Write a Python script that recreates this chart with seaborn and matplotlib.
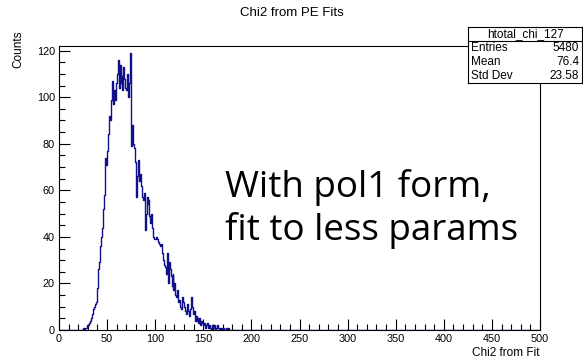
import numpy as np
import pandas as pd
import matplotlib
matplotlib.use("Agg")
import matplotlib.pyplot as plt
from matplotlib.ticker import MultipleLocator
import seaborn as sns

# ---- data (bin width 1, left edges 20..179) ----
first_edge = 20
counts = [
    0, 0, 0, 0, 0,
    1, 0, 1, 1, 2,
    2, 3, 4, 5, 7,
    9, 10, 11, 12, 14,
    18, 26, 29, 36, 40,
    44, 52, 58, 74, 71,
    77, 84, 92, 90, 99,
    107, 97, 103, 99, 106,
    110, 116, 104, 114, 106,
    109, 103, 113, 108, 104,
    103, 110, 100, 106, 119,
    79, 88, 80, 78, 72,
    57, 66, 73, 64, 67,
    62, 57, 56, 59, 43,
    50, 57, 54, 56, 49,
    46, 50, 44, 40, 39,
    39, 40, 39, 38, 37,
    36, 37, 33, 30, 28,
    27, 24, 33, 20, 29,
    26, 23, 19, 24, 17,
    20, 15, 14, 17, 12,
    13, 10, 9, 14, 12,
    10, 8, 7, 11, 8,
    6, 9, 14, 10, 7,
    8, 4, 6, 4, 5,
    3, 5, 2, 4, 3,
    2, 3, 1, 2, 3,
    1, 2, 1, 0, 2,
    1, 2, 0, 1, 2,
    1, 0, 1, 0, 1,
    0, 1, 0, 0, 1,
    0, 1, 0, 0, 0,
]
x_ticks = [0, 50, 100, 150, 200, 250, 300, 350, 400, 450, 500]
y_ticks = [0, 20, 40, 60, 80, 100, 120]
hist_name = "htotal_chi_127"
stats_labels = ["Entries", "Mean", "Std Dev"]
stats_values = ["5480", "76.4", "23.58"]
title = "Chi2 from PE Fits"
xlabel = "Chi2 from Fit"
ylabel = "Counts"
note = "With pol1 form,\nfit to less params"

centers = np.arange(len(counts)) + first_edge + 0.5
df = pd.DataFrame({"chi2": centers, "n": counts})

sns.set_style("ticks")
plt.rcParams["font.family"] = ["Liberation Sans", "DejaVu Sans"]
for k in ["text.color", "axes.labelcolor", "xtick.color", "ytick.color", "axes.edgecolor"]:
    plt.rcParams[k] = "black"

W, H = 583, 358
fig = plt.figure(figsize=(W / 100, H / 100), dpi=100)
L, R, T, B = 59, 540, 46, 330
ax = fig.add_axes([L / W, 1 - B / H, (R - L) / W, (B - T) / H])

sns.histplot(data=df, x="chi2", weights="n", bins=500, binrange=(0, 500),
             element="step", fill=False, color="#10108a", linewidth=1.0, ax=ax)

ax.set_xlim(0, 500)
ax.set_ylim(0, 122)
ax.set_xticks(x_ticks)
ax.set_yticks(y_ticks)
ax.xaxis.set_minor_locator(MultipleLocator(10))
ax.yaxis.set_minor_locator(MultipleLocator(5))
ax.tick_params(which="both", direction="in", labelsize=7.8, width=0.8,
               top=False, right=False, pad=3)
ax.tick_params(which="major", length=8)
ax.tick_params(which="minor", length=4)
for s in ax.spines.values():
    s.set_linewidth(0.8)
    s.set_color("black")
ax.set_xlabel("")
ax.set_ylabel("")

fig.text(R / W, 1 - 353 / H, xlabel, ha="right", va="center", fontsize=8.5)
fig.text(18 / W, 1 - 30 / H, ylabel, ha="center", va="top", rotation=90, fontsize=8.5)
fig.text(291.5 / W, 1 - 13 / H, title, ha="center", va="center", fontsize=9.5)

# stats box as its own small axes
bx0, bx1, by0, by1 = 468, 582, 27, 83
sax = fig.add_axes([bx0 / W, 1 - by1 / H, (bx1 - bx0) / W, (by1 - by0) / H])
sax.set_xlim(bx0, bx1)
sax.set_ylim(by1, by0)
sax.set_xticks([])
sax.set_yticks([])
for s in sax.spines.values():
    s.set_linewidth(0.8)
    s.set_color("black")
row_h = (by1 - by0) / 4
sax.axhline(by0 + row_h, color="black", linewidth=0.8)
sax.text((bx0 + bx1) / 2, by0 + row_h / 2, hist_name, ha="center", va="center", fontsize=8.5)
for i, (lab, val) in enumerate(zip(stats_labels, stats_values)):
    yy = by0 + row_h * (i + 1.5)
    sax.text(bx0 + 3, yy, lab, ha="left", va="center", fontsize=8.5)
    sax.text(bx1 - 3, yy, val, ha="right", va="center", fontsize=8.5)

fig.text(225 / W, 1 - 209 / H, note, ha="left", va="center", fontsize=26.5,
         family=["Open Sans", "DejaVu Sans"], linespacing=1.2)

fig.savefig("out.png", dpi=100)
